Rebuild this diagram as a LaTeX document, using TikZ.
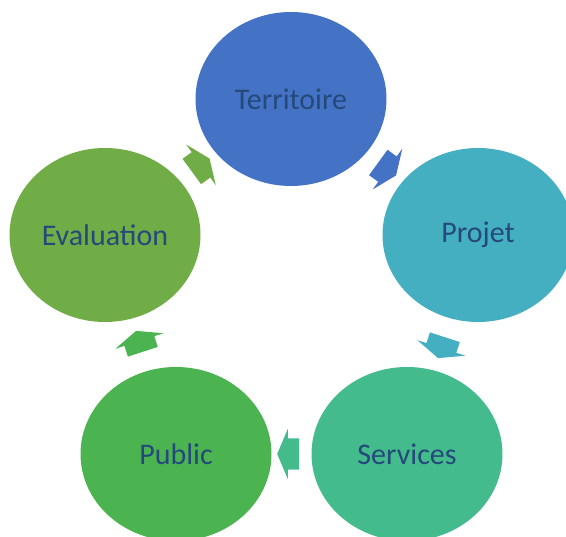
\documentclass[tikz,border=0pt]{standalone}
\usepackage{fontspec}
\setmainfont{Carlito}
\usepackage{tikz}
\usetikzlibrary{shapes.geometric}
\usetikzlibrary{shapes.arrows}
\usepackage{xcolor}
\definecolor{cterr}{HTML}{4472C4}
\definecolor{cproj}{HTML}{45AFC2}
\definecolor{cserv}{HTML}{44BB8C}
\definecolor{cpub}{HTML}{4BB451}
\definecolor{ceval}{HTML}{71AD47}
\definecolor{ctxt}{HTML}{24497A}

\begin{document}
\begin{tikzpicture}[
  bulle/.style = {ellipse, minimum width=191pt, minimum height=174pt, inner sep=0pt, text=ctxt, font=\fontsize{30}{36}\selectfont},
  fleche/.style = {single arrow, minimum height=22pt, single arrow head extend=9.5pt, single arrow tip angle=134, inner xsep=0pt, inner ysep=15.5pt, sloped, allow upside down}
]
\useasboundingbox (0pt,0pt) rectangle (566pt,537pt);

\node[bulle, fill=cterr] (terr) at (291pt,438pt) {Territoire};
\node[bulle, fill=cproj] (proj) at (478pt,302pt) {Projet};
\node[bulle, fill=cserv] (serv) at (407pt,83pt) {Services};
\node[bulle, fill=cpub] (pub) at (176pt,83pt) {Public};
\node[bulle, fill=ceval] (eval) at (105pt,302pt) {Evaluation};

\foreach \i/\j/\c in {terr/proj/cterr, proj/serv/cproj, serv/pub/cserv, pub/eval/cpub, eval/terr/ceval}
\path (\i) -- node[fleche, fill=\c] {} (\j);

\end{tikzpicture}
\end{document}
